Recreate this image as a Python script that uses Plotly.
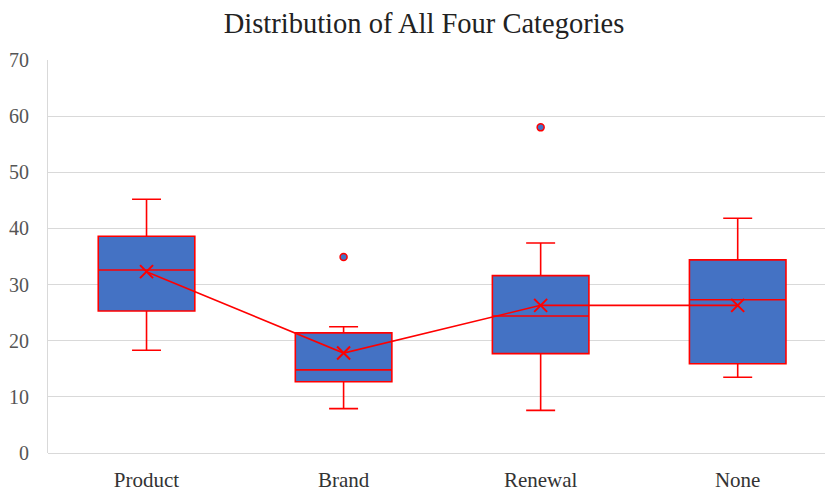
import plotly.graph_objects as go

# Summary statistics per category
categories = ["Product", "Brand", "Renewal", "None"]
lower_whisker = [18.3, 7.9, 7.6, 13.5]
q1 = [25.3, 12.7, 17.7, 15.9]
median = [32.6, 14.8, 24.4, 27.3]
q3 = [38.6, 21.4, 31.6, 34.4]
upper_whisker = [45.2, 22.5, 37.4, 41.8]
means = [32.3, 17.8, 26.3, 26.3]

# Points lying beyond the whiskers
outlier_cats = ["Brand", "Renewal"]
outlier_vals = [34.9, 58.0]

y_ticks = [0, 10, 20, 30, 40, 50, 60, 70]

RED = "#FF0000"
BLUE = "#4472C4"
SERIF = "Liberation Serif, Times New Roman, serif"

fig = go.Figure()

fig.add_trace(go.Box(
    x=categories,
    q1=q1,
    median=median,
    q3=q3,
    lowerfence=lower_whisker,
    upperfence=upper_whisker,
    fillcolor=BLUE,
    line=dict(color=RED, width=1.6),
    whiskerwidth=0.3,
    width=0.49,
    boxpoints=False,
    hoverinfo="skip",
    showlegend=False,
))

fig.add_trace(go.Scatter(
    x=categories,
    y=means,
    mode="lines+markers",
    line=dict(color=RED, width=1.6),
    marker=dict(symbol="x-thin", size=13, line=dict(color=RED, width=2)),
    showlegend=False,
))

fig.add_trace(go.Scatter(
    x=outlier_cats,
    y=outlier_vals,
    mode="markers",
    marker=dict(symbol="circle", size=7, color=BLUE, line=dict(color=RED, width=1.5)),
    showlegend=False,
))

fig.update_layout(
    width=825,
    height=493,
    margin=dict(l=48, r=0, t=60, b=40),
    paper_bgcolor="white",
    plot_bgcolor="white",
    title=dict(
        text="Distribution of All Four Categories",
        x=0.514, xanchor="center",
        y=0.953, yanchor="middle",
        font=dict(family=SERIF, size=28.5, color="#222222"),
    ),
    xaxis=dict(
        type="category",
        range=[-0.5, 3.443],
        showgrid=False,
        showline=False,
        ticks="",
        tickfont=dict(family=SERIF, size=21, color="#333333"),
        ticklabelstandoff=12,
    ),
    yaxis=dict(
        range=[0, 70],
        tickvals=y_ticks,
        showgrid=True,
        gridcolor="#D9D9D9",
        gridwidth=1.2,
        showline=True,
        linecolor="#D9D9D9",
        linewidth=1.2,
        zeroline=True,
        zerolinecolor="#D9D9D9",
        zerolinewidth=1.2,
        ticks="",
        tickfont=dict(family=SERIF, size=20, color="#555555"),
        ticklabelstandoff=14,
    ),
)

fig.write_html("out.html")
